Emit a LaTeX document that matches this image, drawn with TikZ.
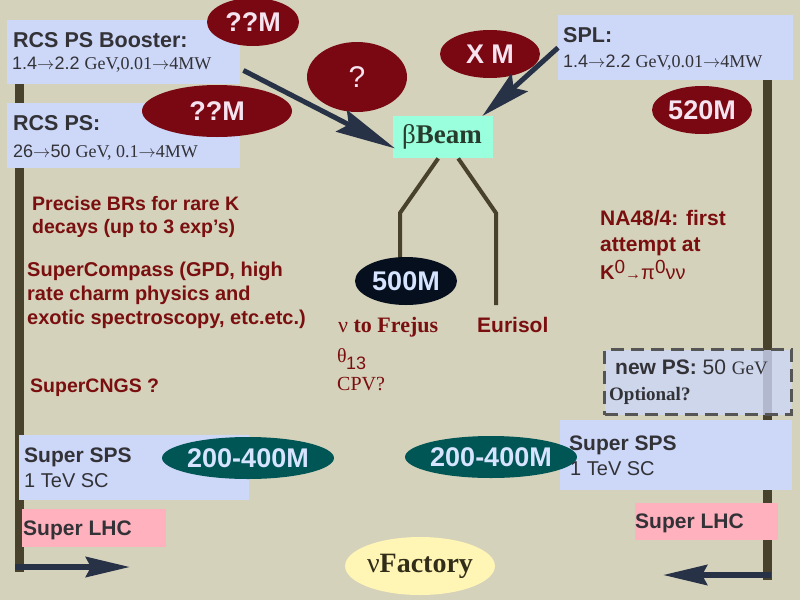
\documentclass[tikz,border=0pt]{standalone}
\usepackage{fontspec}
\setmainfont{Liberation Serif}
\setsansfont{Liberation Sans}
\usetikzlibrary{arrows.meta,shapes.geometric,calc}
\definecolor{bgcol}{RGB}{213,210,188}
\definecolor{boxblue}{RGB}{205,215,248}
\definecolor{aqua}{RGB}{153,255,221}
\definecolor{pinkc}{RGB}{255,178,190}
\definecolor{ellred}{RGB}{122,8,18}
\definecolor{elltext}{RGB}{245,228,240}
\definecolor{navyblk}{RGB}{5,15,30}
\definecolor{paleblue}{RGB}{215,228,255}
\definecolor{tealc}{RGB}{0,85,85}
\definecolor{yel}{RGB}{255,245,180}
\definecolor{barcol}{RGB}{72,66,44}
\definecolor{arrcol}{RGB}{40,50,70}
\definecolor{dashcol}{RGB}{85,85,85}
\definecolor{redtext}{RGB}{122,15,15}
\definecolor{boxtext}{RGB}{50,50,55}
\definecolor{beamtext}{RGB}{40,60,45}
\definecolor{nuftext}{RGB}{50,45,25}
\newcommand\myfs[1]{\fontsize{#1pt}{#1pt}\selectfont}
\newcommand\myarr{\ensuremath{\mathsurround=0pt\rightarrow}}
\begin{document}
\begin{tikzpicture}[x=1pt,y=-1pt,
  txt/.style={inner sep=0pt,anchor=base west},
  panel/.style={anchor=north west,inner sep=0pt,draw=none,fill=boxblue},
  oval/.style={ellipse,inner sep=0pt,draw=none,font=\sffamily\bfseries\myfs{27}},
  bar/.style={draw=barcol,line width=9pt},
  arr/.style={draw=arrcol,line width=6pt},
  branch/.style={draw=barcol,line width=4pt},
  rtx/.style={text=redtext},
  dtx/.style={text=boxtext}]
\fill[bgcol] (0,0) rectangle (800,600);
\useasboundingbox (0,0) rectangle (800,600);
% bars
\coordinate (lt) at (19,40); \coordinate (lc) at (19,572);
\draw[bar] (lt) -- (lc);
\coordinate (la0) at (15,567); \coordinate (la1) at (130,567);
\draw[arr,-{Stealth[length=44pt,width=20pt,inset=5pt]}] (la0) -- (la1);
\coordinate (rt) at (767,60); \coordinate (rc) at (767,580);
\draw[bar] (rt) -- (rc);
\coordinate (ra0) at (771,575); \coordinate (ra1) at (663,575);
\draw[arr,-{Stealth[length=44pt,width=20pt,inset=5pt]}] (ra0) -- (ra1);
% panels
\node[panel,minimum width=233pt,minimum height=64pt] (booster) at (7,20) {};
\node[panel,minimum width=233pt,minimum height=65pt] (rcsps) at (7,103) {};
\node[panel,minimum width=235pt,minimum height=65pt] (spl) at (558,15) {};
\node[panel,fill=aqua,minimum width=100pt,minimum height=42pt] (beam) at (393,116) {};
\node[panel,fill opacity=0.8,draw=dashcol,line width=3pt,dash pattern=on 13pt off 7pt,minimum width=187pt,minimum height=65pt] (newps) at (603,348) {};
\node[panel,minimum width=232pt,minimum height=70pt] (sspsr) at (560,420) {};
\node[panel,minimum width=230pt,minimum height=65pt] (sspsl) at (19,435) {};
\node[panel,fill=pinkc,minimum width=144pt,minimum height=38pt] (slhcl) at (22,509) {};
\node[panel,fill=pinkc,minimum width=143pt,minimum height=37pt] (slhcr) at (635,503) {};
% ovals
\node[oval,fill=ellred,text=elltext,minimum width=92pt,minimum height=48pt] (m1) at (253,22) {??M};
\node[oval,fill=ellred,text=elltext,minimum width=150pt,minimum height=52pt] (m2) at (217,111) {??M};
\node[oval,fill=ellred,text=elltext,minimum width=100pt,minimum height=70pt,font=\sffamily\myfs{30}] (q) at (357,77) {?};
\node[oval,fill=ellred,text=elltext,minimum width=100pt,minimum height=48pt] (xm) at (490,54) {X M};
\node[oval,fill=ellred,text=elltext,minimum width=100pt,minimum height=48pt] (m520) at (702,110) {520M};
% connectors
\draw[arr,line width=5pt,-{Stealth[length=60pt,width=24pt,inset=8pt]}] ($(booster.south east)+(3,-14)$) -- ($(beam.south west)+(2,-10)$);
\draw[arr,line width=5pt,-{Stealth[length=50pt,width=24pt,inset=8pt]}] (spl.west) -- ($(beam.north east)+(-11,0)$);
\coordinate (bl) at (400,213); \coordinate (br) at (496,213); \coordinate (bre) at (496,305);
\draw[branch] ($(beam.south)+(-5,0)$) -- (bl) -- ($(bl)+(0,46)$);
\draw[branch] ($(beam.south)+(15,0)$) -- (br) -- (bre);
\node[oval,fill=navyblk,text=paleblue,minimum width=102pt,minimum height=48pt] (m500) at (406,281) {500M};
\node[oval,fill=tealc,text=paleblue,minimum width=170pt,minimum height=42pt] (m2l) at (248,458) {200-400M};
\node[oval,fill=tealc,text=paleblue,minimum width=168pt,minimum height=42pt] (m2r) at (491,457) {200-400M};
\node[oval,fill=yel,text=nuftext,minimum width=122pt,minimum height=58pt,font=\rmfamily\myfs{28}] (nuf) at (420,566) {ν\textbf{Factory}};
% texts in panels
\node[txt,dtx] (t1) at (13,47) {\sffamily\bfseries\myfs{21.5}RCS PS Booster:};
\node[txt,dtx] (t2) at (12,69) {\myfs{18}\sffamily 1.4\myarr 2.2 \rmfamily GeV,0.01\myarr 4MW};
\node[txt,dtx] (t3) at (13,130) {\sffamily\bfseries\myfs{21.5}RCS PS:};
\node[txt,dtx] (t4) at (13,157) {\myfs{18}\sffamily 26\myarr 50 \rmfamily GeV, 0.1\myarr 4MW};
\node[txt,dtx] (t5) at (563,42) {\sffamily\bfseries\myfs{21.5}SPL:};
\node[txt,dtx] (t6) at (563,67) {\myfs{18}\sffamily 1.4\myarr 2.2 \rmfamily GeV,0.01\myarr 4MW};
\node[txt,text=beamtext] (t7) at (402,143) {\rmfamily\myfs{27}β\textbf{Beam}};
\node[txt,dtx] (t8) at (615,374) {\myfs{21}\sffamily\textbf{new PS:} 50 \rmfamily\myfs{19}GeV};
\node[txt,dtx] (t9) at (609,400) {\rmfamily\bfseries\myfs{19}Optional?};
\node[txt,dtx] (t10) at (24,462) {\sffamily\bfseries\myfs{21}Super SPS};
\node[txt,dtx] (t11) at (24,487) {\sffamily\myfs{20}1 TeV SC};
\node[txt,dtx] (t12) at (569,450) {\sffamily\bfseries\myfs{21}Super SPS};
\node[txt,dtx] (t13) at (570,475) {\sffamily\myfs{20}1 TeV SC};
\node[txt,dtx] (t14) at (23,535) {\sffamily\bfseries\myfs{21}Super LHC};
\node[txt,dtx] (t15) at (635,528) {\sffamily\bfseries\myfs{21}Super LHC};
% free texts
\node[txt,rtx] (p1) at (32,210) {\sffamily\bfseries\myfs{19.5}Precise BRs for rare K};
\node[txt,rtx] (p2) at (32,233) {\sffamily\bfseries\myfs{19.5}decays (up to 3 exp’s)};
\node[txt,rtx] (c1) at (27,276) {\sffamily\bfseries\myfs{20}SuperCompass (GPD, high};
\node[txt,rtx] (c2) at (27,300) {\sffamily\bfseries\myfs{20}rate charm physics and};
\node[txt,rtx] (c3) at (27,324) {\sffamily\bfseries\myfs{20}exotic spectroscopy, etc.etc.)};
\node[txt,rtx] (cn) at (30,392) {\sffamily\bfseries\myfs{19.5}SuperCNGS ?};
\node[txt,rtx] (fr) at (338,332) {\rmfamily\myfs{22}ν \textbf{to Frejus}};
\node[txt,rtx] (eu) at (477,332) {\sffamily\bfseries\myfs{21}Eurisol};
\node[txt,rtx] (th) at (337,362) {\rmfamily\myfs{20}θ};
\node[txt,rtx] (th13) at (346,369) {\sffamily\myfs{18}13};
\node[txt,rtx] (cpv) at (337,390) {\rmfamily\myfs{20}CPV?};
\node[txt,rtx] (n1) at (600,225) {\sffamily\bfseries\myfs{21}NA48/4: first};
\node[txt,rtx] (n2) at (600,251) {\sffamily\bfseries\myfs{21}attempt at};
\node[txt,rtx] (n3) at (600,279) {\sffamily\myfs{20}\textbf{K}\raisebox{6pt}{\myfs{19}0}\rmfamily\myfs{16}→\sffamily\myfs{20}π\raisebox{6pt}{\myfs{19}0}νν};
\end{tikzpicture}
\end{document}
